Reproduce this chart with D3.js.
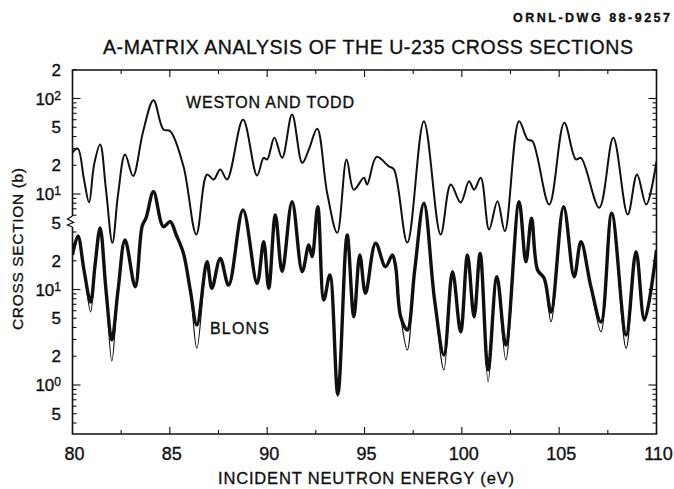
<!DOCTYPE html>
<html><head><meta charset="utf-8">
<script src="https://cdn.jsdelivr.net/npm/d3@7"></script>
<style>
body{margin:0;background:#fff}
svg{display:block}
text{font-family:"Liberation Sans",Arial,sans-serif;fill:#111;stroke:#111;stroke-width:0.35px}
</style>
</head><body><svg id="c" width="674" height="489"></svg>
<script>
// ---------- DATA ----------
// Weston and Todd (upper curve), cross section in barns
const energyWT = [80.0,80.27,80.59,80.85,81.11,81.42,81.72,82.05,82.34,82.70,83.11,83.63,84.16,84.67,85.02,85.70,86.36,86.91,87.25,87.59,87.94,88.76,89.48,89.82,90.00,90.37,90.77,91.28,91.80,92.14,92.57,93.08,93.60,94.08,94.45,94.97,95.14,95.62,96.25,96.51,97.20,98.05,98.91,99.43,99.94,100.37,100.63,100.97,101.40,101.83,102.21,102.94,103.38,103.63,104.49,105.26,105.86,106.12,107.06,107.78,108.52,109.00,109.47,110.0];
const westonTodd = [27.2,29.9,14.2,8.15,20.4,33.0,11.1,3.08,9.9,25.9,15.4,45.5,96.0,47.4,45.5,19.5,3.77,16.0,14.2,18.1,14.2,60.3,15.6,23.9,23.0,38.8,23.9,68.0,21.2,29.2,48.2,10.3,3.92,23.0,11.1,14.8,12.6,24.5,19.5,18.1,3.10,57.9,3.77,12.6,8.15,13.6,11.1,14.8,4.25,8.41,4.08,57.9,37.2,35.7,7.76,55.7,23.0,23.9,7.17,38.8,6.10,16.0,7.76,21.9];

// Blons (lower curve): measured data band and A-matrix fit
const energyBlons = [80.0,80.28,80.59,80.93,81.16,81.42,81.72,82.02,82.34,82.70,83.22,83.58,83.78,84.16,84.67,85.02,85.33,85.70,86.05,86.39,86.91,87.16,87.59,88.02,88.76,89.48,89.82,90.08,90.42,90.77,91.28,91.80,92.14,92.31,92.60,92.91,93.22,93.63,94.11,94.45,94.76,95.05,95.57,96.08,96.43,96.60,96.86,97.20,97.58,98.05,98.60,99.08,99.52,99.94,100.29,100.63,100.94,101.35,101.80,102.26,102.94,103.29,103.58,103.89,104.23,104.58,105.23,105.77,106.12,106.63,107.15,107.70,108.44,108.95,109.38,110.0];
const blonsFit = [23.0,36.3,16.0,5.81,18.1,44.1,9.88,1.78,9.88,33.0,10.7,46.2,56.1,105.7,45.5,51.3,37.2,23.9,9.88,2.42,19.5,10.3,21.2,11.1,68.0,11.6,31.7,10.3,60.3,15.4,83.1,15.4,29.2,22.1,73.6,7.76,14.2,0.754,37.2,5.19,23.0,9.12,30.5,17.3,23.0,17.3,5.19,2.33,16.0,79.9,7.76,1.44,15.4,3.61,23.0,5.19,23.9,1.08,13.6,1.83,83.1,19.5,55.7,16.0,13.1,4.60,73.6,13.6,31.7,10.7,3.61,62.8,2.42,24.9,4.79,25.9];
const blonsData = [23.0,36.3,16.0,7.40,18.1,44.1,9.88,2.96,9.88,33.0,10.7,46.2,56.1,105.7,45.5,51.3,37.2,23.9,9.88,4.25,19.5,10.3,21.2,11.1,68.0,11.6,31.7,10.3,60.3,15.4,83.1,15.4,29.2,22.1,73.6,7.76,14.2,0.80,37.2,5.19,23.0,9.12,30.5,17.3,23.0,17.3,5.19,3.77,16.0,79.9,7.76,2.06,15.4,3.61,23.0,5.19,23.9,1.44,13.6,2.62,83.1,19.5,55.7,16.0,13.1,5.81,73.6,13.6,31.7,10.7,4.57,62.8,3.34,24.9,4.79,25.9];

// axis tick values / labels
const xTicks = [80,85,90,95,100,105,110];
const upperTickValues = [200,100,50,20,10];          // Weston & Todd segment (b)
const upperTickLabels = ["2","10^2","5","2","10^1"];
const lowerTickValues = [50,20,10,5,2,1,0.5];        // Blons segment (b)
const lowerTickLabels = ["5","2","10^1","5","2","10^0","5"];
const WT_SHIFT = 10; // upper curve displaced one decade on the plot

// ---------- LAYOUT ----------
const L = 72.5, R = 656.5, T = 70, B = 434;
const svg = d3.select("#c");
const x = d3.scaleLinear().domain([80,110]).range([L,R]);
const y = d3.scaleLog().domain([1,1000]).range([385,98.5]);
const BREAK = 221;

svg.append("defs").append("clipPath").attr("id","clip")
  .append("rect").attr("x",L).attr("y",T).attr("width",R-L).attr("height",B-T);

// frame (left axis has a break)
const frame = svg.append("g").attr("stroke","#111").attr("fill","none").attr("stroke-width",1.6);
frame.append("path").attr("d",`M${L},${BREAK-5}V${T}H${R}V${B}H${L}V${BREAK+6}`);
frame.append("path").attr("d",`M${L},${BREAK-5}L${L-5},${BREAK-2}L${L+1},${BREAK+1.5}L${L-5},${BREAK+4}L${L},${BREAK+6}`).attr("stroke-width",1.3);

// y minor/major ticks
const ticksG = svg.append("g").attr("stroke","#111").attr("stroke-width",1.1);
function yTick(c, major){
  const yy = y(c); if (yy < T-0.5 || yy > B+0.5) return;
  const len = major ? 8 : 4;
  ticksG.append("line").attr("x1",L).attr("x2",L+len).attr("y1",yy).attr("y2",yy);
  ticksG.append("line").attr("x1",R).attr("x2",R-len).attr("y1",yy).attr("y2",yy);
}
// upper segment (displayed value = cross section * WT_SHIFT)
[6,7,8,9,10,20,30,40,50,60,70,80,90,100,200].forEach(v=>{
  const c = v*WT_SHIFT; if (y(c) < BREAK-3) yTick(c, v===10||v===100);
});
// lower segment
[0.4,0.5,0.6,0.7,0.8,0.9,1,2,3,4,5,6,7,8,9,10,20,30,40,50].forEach(v=>{
  if (y(v) > BREAK+3) yTick(v, v===1||v===10);
});

// x ticks
d3.range(80,110.01,2.5).forEach(e=>{
  const major = e%5===0; const len = major?7:4; const xx = x(e);
  ticksG.append("line").attr("x1",xx).attr("x2",xx).attr("y1",B).attr("y2",B-len);
  ticksG.append("line").attr("x1",xx).attr("x2",xx).attr("y1",T).attr("y2",T+len);
});

// tick labels
function addYLabel(c, lab){
  const t = svg.append("text").attr("x",61).attr("y",y(c)).attr("dy","0.36em")
    .attr("text-anchor","end").attr("font-size",17);
  if (lab.startsWith("10^")) {
    t.append("tspan").text("10");
    t.append("tspan").attr("dy","-0.42em").attr("font-size",12).text(lab.slice(3));
  } else t.text(lab);
}
upperTickValues.forEach((v,i)=>addYLabel(v*WT_SHIFT, upperTickLabels[i]));
lowerTickValues.forEach((v,i)=>addYLabel(v, lowerTickLabels[i]));

xTicks.forEach(e=>{
  svg.append("text").attr("x",x(e)+2).attr("y",460).attr("text-anchor","middle")
    .attr("font-size",18).text(e);
});

// curves
const line = d3.line().x(d=>x(d[0])).y(d=>y(d[1])).curve(d3.curveCatmullRom.alpha(0.5));
const plot = svg.append("g").attr("clip-path","url(#clip)").attr("fill","none").attr("stroke","#111");
plot.append("path").attr("d", line(d3.zip(energyWT, westonTodd.map(v=>v*WT_SHIFT)))).attr("stroke-width",2);
plot.append("path").attr("d", line(d3.zip(energyBlons, blonsData))).attr("stroke-width",3.4).attr("stroke-linejoin","round");
plot.append("path").attr("d", line(d3.zip(energyBlons, blonsFit))).attr("stroke-width",1.2);

// texts
svg.append("text").attr("x",670).attr("y",22).attr("text-anchor","end").attr("font-size",12.5)
  .attr("font-weight","bold").attr("textLength",157).text("ORNL-DWG 88-9257");
svg.append("text").attr("x",368).attr("y",54).attr("text-anchor","middle").attr("font-size",19.5)
  .attr("textLength",530).text("A-MATRIX ANALYSIS OF THE U-235 CROSS SECTIONS");
svg.append("text").attr("x",186).attr("y",108).attr("font-size",16)
  .attr("textLength",168).text("WESTON AND TODD");
svg.append("text").attr("x",210).attr("y",334).attr("font-size",16)
  .attr("textLength",59).text("BLONS");
svg.append("text").attr("transform","translate(23,249) rotate(-90)").attr("text-anchor","middle")
  .attr("font-size",15.5).attr("textLength",162).text("CROSS SECTION (b)");
svg.append("text").attr("x",366).attr("y",484).attr("text-anchor","middle").attr("font-size",16.5)
  .attr("textLength",296).text("INCIDENT NEUTRON ENERGY (eV)");
</script>
</body></html>
